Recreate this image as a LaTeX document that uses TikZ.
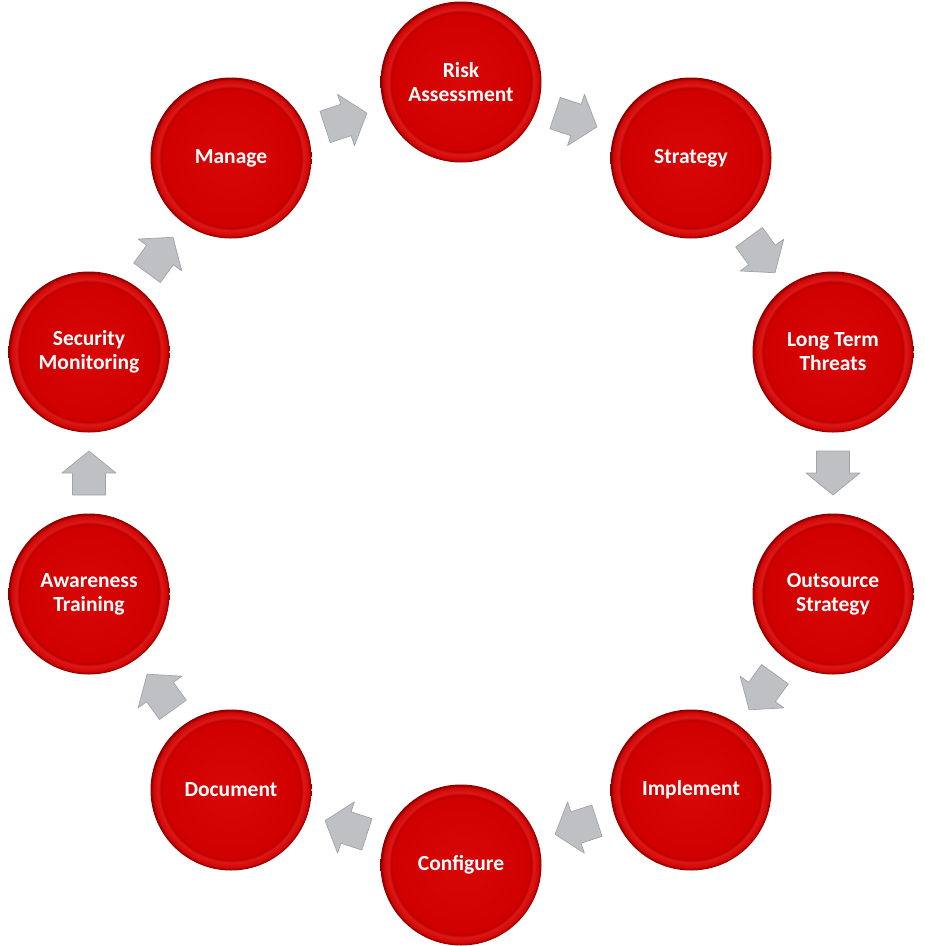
\documentclass[tikz,border=0pt]{standalone}
\usepackage{fontspec}
\setmainfont{Carlito}
\usetikzlibrary{calc}
\pgfdeclareradialshading{redball}{\pgfpoint{0bp}{0bp}}{rgb(0bp)=(0.85,0.03,0.03); rgb(21bp)=(0.82,0.0,0.0); rgb(21.75bp)=(0.74,0,0); rgb(22.5bp)=(0.87,0.09,0.09); rgb(24.1bp)=(0.82,0.03,0.03); rgb(24.6bp)=(0.64,0,0); rgb(25bp)=(0.52,0,0); rgb(50bp)=(0.52,0,0)}
\begin{document}
\begin{tikzpicture}[x=1pt,y=-1pt,
  ball/.style={circle, minimum size=161pt, inner sep=0pt, shading=redball, text=white,
    font=\fontsize{21.5}{24}\selectfont\bfseries, align=center},
  blk/.style={fill={rgb,255:red,190;green,192;blue,196}, draw={rgb,255:red,160;green,163;blue,168},
    line width=0.7pt, line join=round}]
\useasboundingbox (0,0) rectangle (925,946);
\node[ball] (risk) at (461,82)  {Risk\\Assessment};
\node[ball] (strat) at (691,158) {Strategy};
\node[ball] (ltt)  at (833,352) {Long Term\\Threats};
\node[ball] (outs) at (833,594) {Outsource\\Strategy};
\node[ball] (impl) at (691,790) {Implement};
\node[ball] (conf) at (461,865) {Configure};
\node[ball] (doc)  at (231,790) {Document};
\node[ball] (aw)   at (89,594)  {Awareness\\Training};
\node[ball] (sec)  at (89,352)  {Security\\Monitoring};
\node[ball] (man)  at (231,158) {Manage};
\foreach \a/\b in {man/risk, risk/strat, strat/ltt, ltt/outs, outs/impl, impl/conf, conf/doc, doc/aw, aw/sec, sec/man}
  \draw[blk] let \p1=($(\b)-(\a)$), \n1={atan2(\y1,\x1)} in
    {[shift={($(\a)!0.5!(\b)$)}, rotate=\n1]
     (-22,-16.5) -- (0,-16.5) -- (0,-27) -- (22,0) -- (0,27) -- (0,16.5) -- (-22,16.5) -- cycle};
\end{tikzpicture}
\end{document}
